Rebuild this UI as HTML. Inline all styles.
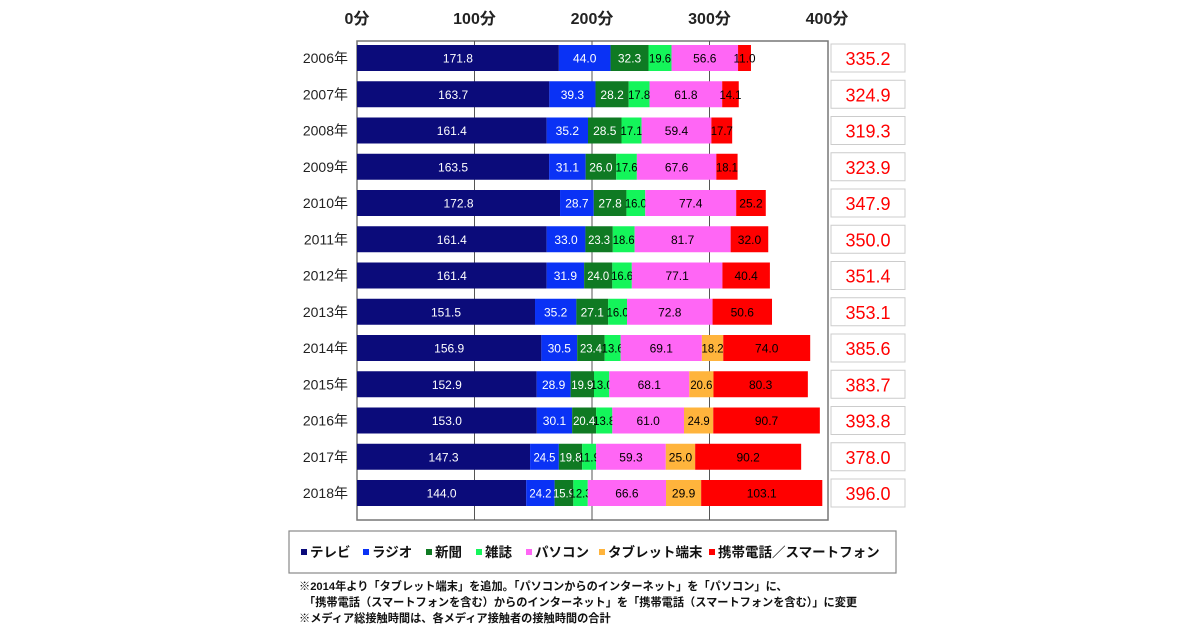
<!DOCTYPE html>
<html><head><meta charset="utf-8"><style>
body{margin:0;background:#fff;font-family:"Liberation Sans","Noto Sans CJK JP",sans-serif;}
#wrap{position:relative;width:1200px;height:630px;overflow:hidden;background:#fff}
svg text{font-family:"Liberation Sans","Noto Sans CJK JP",sans-serif}
</style></head><body><div id="wrap">
<svg id="svg" width="1200" height="630"></svg>
</div>
<script>
const years=["2006年","2007年","2008年","2009年","2010年","2011年","2012年","2013年","2014年","2015年","2016年","2017年","2018年"];
const seriesNames=["テレビ","ラジオ","新聞","雑誌","パソコン","タブレット端末","携帯電話／スマートフォン"];
const tv=[171.8,163.7,161.4,163.5,172.8,161.4,161.4,151.5,156.9,152.9,153.0,147.3,144.0];
const radio=[44.0,39.3,35.2,31.1,28.7,33.0,31.9,35.2,30.5,28.9,30.1,24.5,24.2];
const paper=[32.3,28.2,28.5,26.0,27.8,23.3,24.0,27.1,23.4,19.9,20.4,19.8,15.9];
const mag=[19.6,17.8,17.1,17.6,16.0,18.6,16.6,16.0,13.6,13.0,13.8,11.9,12.3];
const pc=[56.6,61.8,59.4,67.6,77.4,81.7,77.1,72.8,69.1,68.1,61.0,59.3,66.6];
const tablet=[0,0,0,0,0,0,0,0,18.2,20.6,24.9,25.0,29.9];
const mobile=[11.0,14.1,17.7,18.1,25.2,32.0,40.4,50.6,74.0,80.3,90.7,90.2,103.1];
const totals=["335.2","324.9","319.3","323.9","347.9","350.0","351.4","353.1","385.6","383.7","393.8","378.0","396.0"];
const ticks=[0,100,200,300,400];
const colors=["#0b0b7a","#0a32f5","#0f7a23","#14f55a","#ff66f5","#ffb43c","#ff0000"];
const txtCol=["#fff","#fff","#fff","#000","#000","#000","#000"];
const series=[tv,radio,paper,mag,pc,tablet,mobile];
const NS="http://www.w3.org/2000/svg";
const svg=document.getElementById('svg');
const X0=357,X1=827,Y0=41,Y1=520,yTop=58,step=36.25,bh=26;
const xs=v=>X0+v*(X1-X0)/400;
const yc=i=>yTop+i*step;
function el(t,a,p){const e=document.createElementNS(NS,t);for(const k in a)e.setAttribute(k,a[k]);(p||svg).appendChild(e);return e;}
let r=el('rect',{x:X0,y:Y0,width:X1-X0+1,height:Y1-Y0,fill:'#fff',stroke:'#777','stroke-width':1.5});


ticks.forEach(t=>{
 if(t>0&&t<400){const l=el('line',{x1:xs(t),x2:xs(t),y1:Y0,y2:Y1,stroke:'#555','stroke-width':1});
 
 }
 const tx=el('text',{x:xs(t),y:24,'font-size':16,'font-weight':'bold','text-anchor':'middle',fill:'#222'});tx.textContent=t+"分";
 
 
});
years.forEach((y,i)=>{
 const c=yc(i);
 const lb=el('text',{x:348,y:c+5,'font-size':14,'text-anchor':'end',fill:'#222'});lb.textContent=y;
 
 
 let acc=0;
 series.forEach((s,k)=>{
  const v=s[i];if(!v)return;
  const b=el('rect',{x:xs(acc),y:c-bh/2,width:xs(acc+v)-xs(acc),height:bh,fill:colors[k]});
  
  
  const t=el('text',{x:(xs(acc)+xs(acc+v))/2,y:c+4.5,'font-size':12,'text-anchor':'middle',fill:txtCol[k]});
  if(v<25){t.setAttribute('textLength',22);t.setAttribute('lengthAdjust','spacingAndGlyphs');}
  t.textContent=v.toFixed(1);
  
  
  acc+=v;
 });
 const bx=el('rect',{x:831,y:c-14,width:74,height:28,fill:'#fff',stroke:'#ccc','stroke-width':1});
 
 
 const tt=el('text',{x:868,y:c+7,'font-size':18,'text-anchor':'middle',fill:'#ff0000'});tt.textContent=totals[i];
 
 
});
const lg=el('rect',{x:289,y:531,width:607,height:42,fill:'#fff',stroke:'#888','stroke-width':1.2});


const lx=[301,363,426,476,526,599,709];
seriesNames.forEach((n,k)=>{
 const s=el('rect',{x:lx[k],y:549,width:6,height:6,fill:colors[k]});
 
 
 const t=el('text',{x:lx[k]+9,y:557,'font-size':13.5,'font-weight':'bold',fill:'#111'});t.textContent=n;
 
 
});
const notes=["※2014年より「タブレット端末」を追加。「パソコンからのインターネット」を「パソコン」に、","「携帯電話（スマートフォンを含む）からのインターネット」を「携帯電話（スマートフォンを含む）」に変更","※メディア総接触時間は、各メディア接触者の接触時間の合計"];
const nx=[299,304,299],ny=[590,606,622];
notes.forEach((n,i)=>{const t=el('text',{x:nx[i],y:ny[i],'font-size':11.2,'font-weight':'bold',fill:'#111'});t.textContent=n;
 
 });
</script></body></html>
